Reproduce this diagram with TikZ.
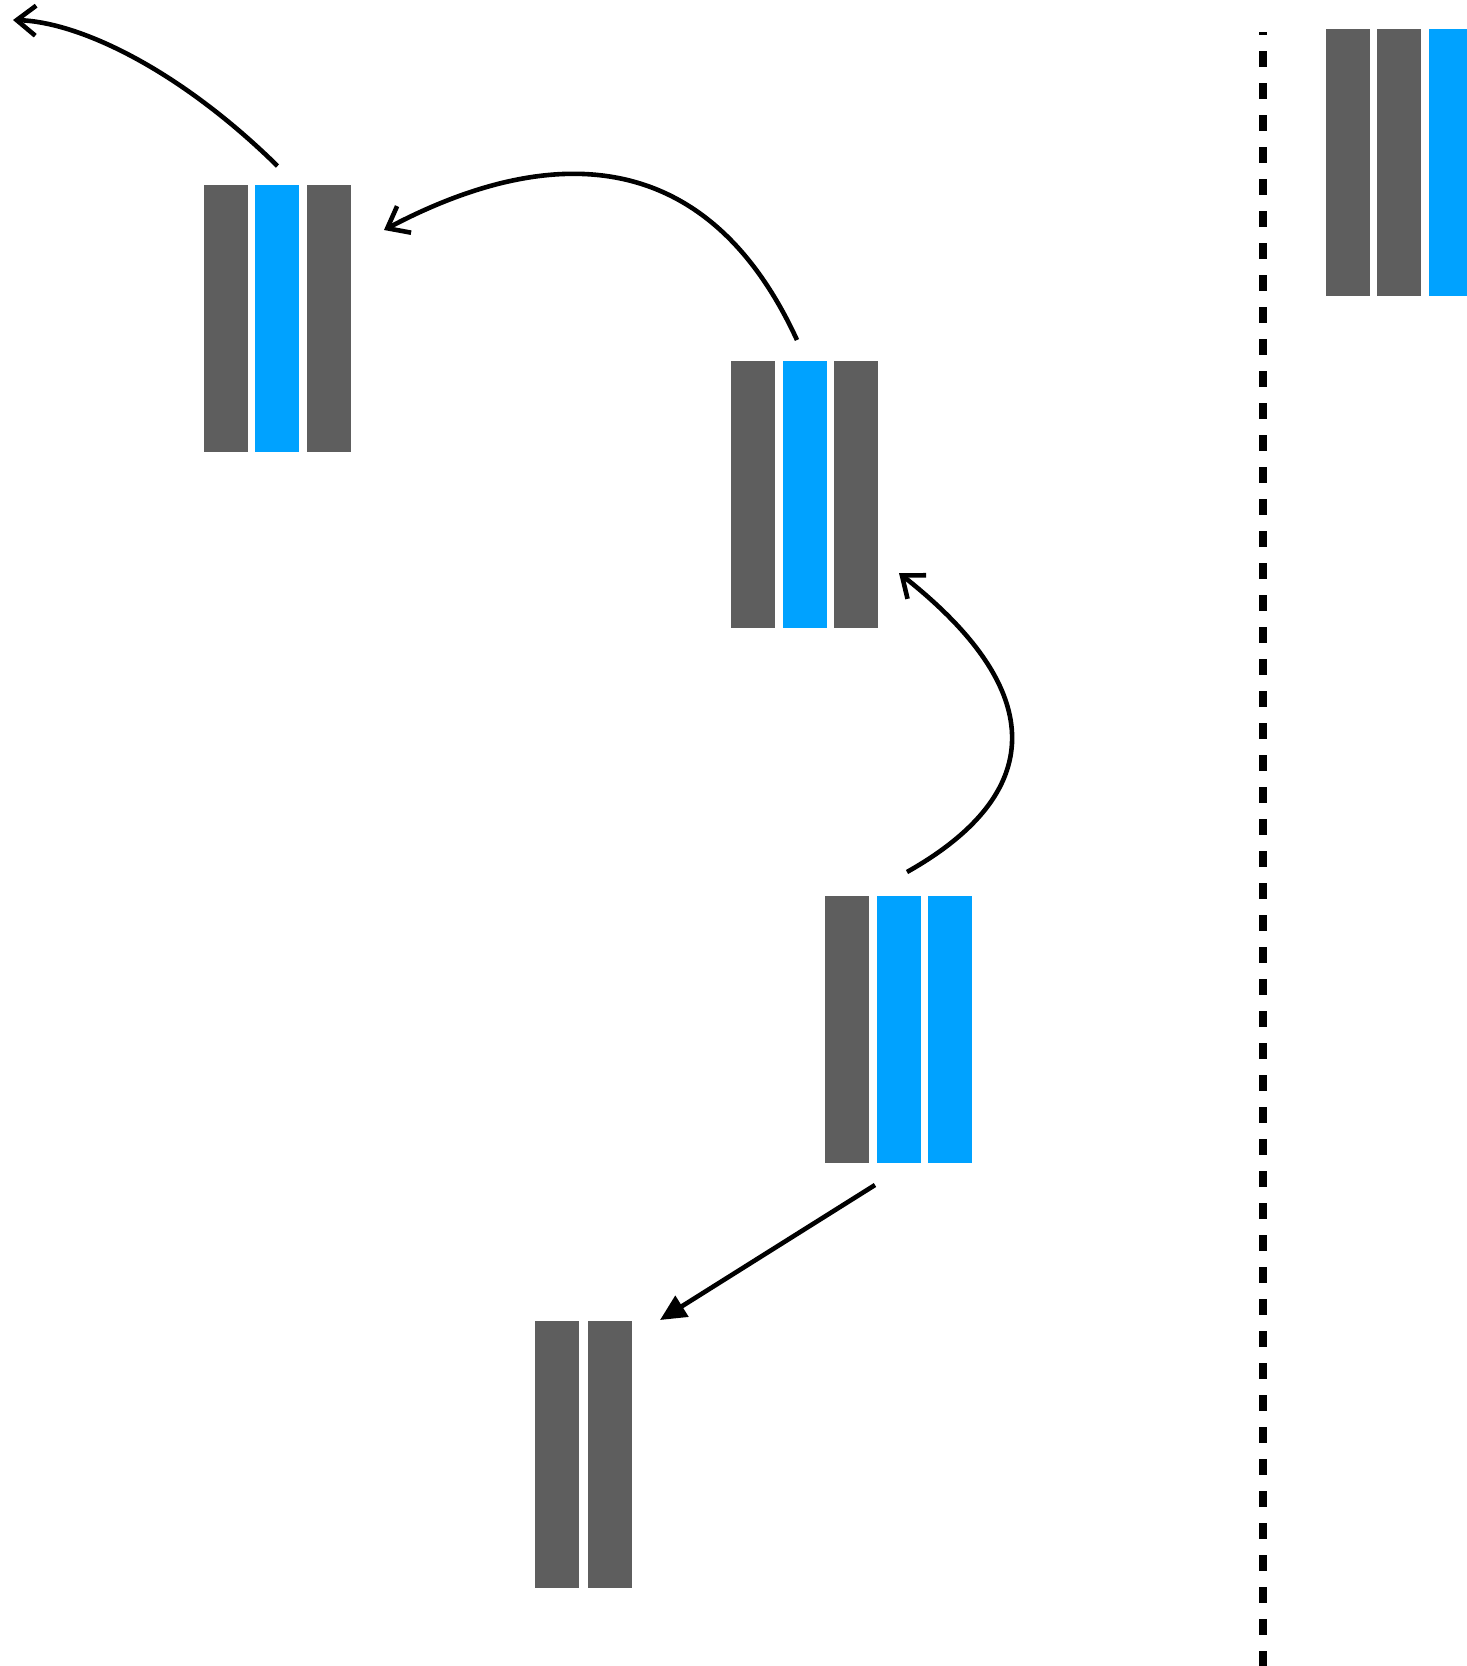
\documentclass[tikz,border=0pt]{standalone}
\usetikzlibrary{arrows.meta,fit,calc}
\definecolor{bargray}{HTML}{5E5E5E}
\definecolor{barblue}{HTML}{00A2FF}
\tikzset{
  bar/.style={rectangle,inner sep=0pt,outer sep=0pt,minimum width=44pt,minimum height=267pt,draw=none},
  gbar/.style={bar,fill=bargray},
  bbar/.style={bar,fill=barblue},
  grp/.style={inner sep=0pt,outer sep=0pt,draw=none},
  conn/.style={line width=4.6pt,-{Straight Barb[length=19pt,width=30pt]}},
  connf/.style={line width=4.6pt,-{Triangle[length=26pt,width=24pt]}}
}
\begin{document}
\begin{tikzpicture}[x=1pt,y=-1pt]
\useasboundingbox (0,0) rectangle (1467,1666);
\clip (0,0) rectangle (1467,1666);
% block 1
\node[gbar] (b1a) at (226,318.5) {};
\node[bbar] (b1b) at (277,318.5) {};
\node[gbar] (b1c) at (329,318.5) {};
\node[grp,fit=(b1a)(b1c)] (b1) {};
% block 2
\node[gbar] (b2a) at (753,494.5) {};
\node[bbar] (b2b) at (805,494.5) {};
\node[gbar] (b2c) at (856,494.5) {};
\node[grp,fit=(b2a)(b2c)] (b2) {};
% block 3
\node[gbar] (b3a) at (847,1029.5) {};
\node[bbar] (b3b) at (899,1029.5) {};
\node[bbar] (b3c) at (950,1029.5) {};
\node[grp,fit=(b3a)(b3c)] (b3) {};
% block 4
\node[gbar] (b4a) at (557,1454.5) {};
\node[gbar] (b4b) at (610,1454.5) {};
\node[grp,fit=(b4a)(b4b)] (b4) {};
% block 5 (top right)
\node[gbar] (b5a) at (1348,162.5) {};
\node[gbar] (b5b) at (1399,162.5) {};
\node[bbar] (b5c) at (1451,162.5) {};
% dashed separator
\coordinate (dtop) at (1262.5,32);
\coordinate (dbot) at (1262.5,1670);
\draw[line width=8pt,dash pattern=on 16pt off 16pt,dash phase=13pt] (dtop) -- (dbot);
% connectors
\coordinate (e1) at (13,20);
\draw[conn] ($(b1.north)+(0,-19)$) .. controls (180,70) and (80,22) .. (e1);
\draw[conn] ($(b2.north)+(-7.5,-21)$) .. controls (705,140) and (545,145) .. ($(b1.north east)+(33,45)$);
\draw[conn] ($(b3.north)+(8.5,-24)$) .. controls (1035,800) and (1060,700) .. ($(b2.south east)+(21,-55)$);
\draw[connf] ($(b3.south)+(-23.5,22)$) -- ($(b4.north east)+(28,-1)$);
\end{tikzpicture}
\end{document}
